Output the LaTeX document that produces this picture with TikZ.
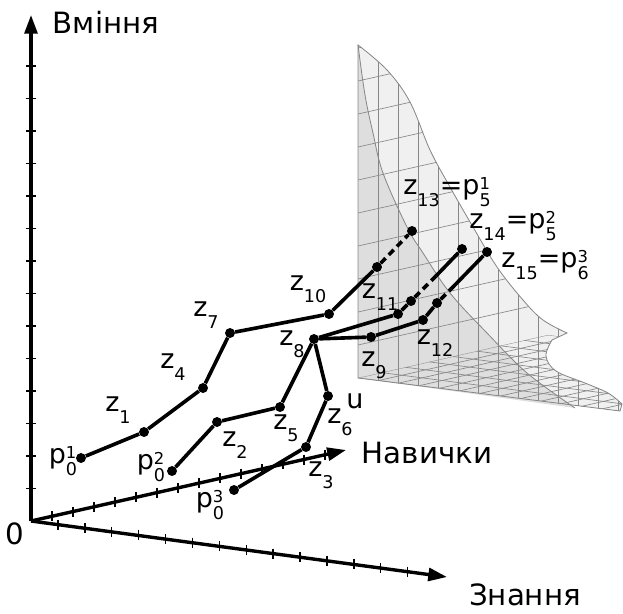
\documentclass[tikz,border=0pt]{standalone}
\usepackage{fontspec}
\setmainfont{DejaVu Sans}
\usepackage{tikz}
\usetikzlibrary{arrows.meta}
\definecolor{wallgray}{HTML}{DEDEDE}
\definecolor{facegray}{HTML}{F0F0F0}
\definecolor{meshgray}{HTML}{878787}

\newcommand{\zs}[2]{#1\raisebox{-0.45em}{\fontsize{15}{15}\selectfont #2}}
\newcommand{\pp}[2]{p\makebox[0pt][l]{\raisebox{0.2em}{\fontsize{14}{14}\selectfont #1}}\raisebox{-0.45em}{\fontsize{15}{15}\selectfont #2}}
\newcommand{\surfedge}{plot[smooth, tension=0.6] coordinates {(358,45) (387,70) (410,102) (430,150) (450,187) (473,227) (497,267) (523,300) (543,320) (567,333)} -- plot[smooth, tension=0.6] coordinates {(552,340) (546,356) (556,371) (585,383) (608,393) (622,404)} -- (620,411) -- (358,378) -- cycle}
\newcommand{\surfinner}{plot[smooth, tension=0.6] coordinates {(358,45) (365,95) (373,133) (383,173) (407,227) (423,253) (450,293) (487,333) (527,373) (575,408)}}

\begin{document}
\begin{tikzpicture}[x=0.03cm, y=-0.03cm,
    axis/.style={line width=2.9pt, -{Triangle[length=16pt, width=11pt]}},
    tick/.style={line width=1.2pt},
    traj/.style={line width=3.1pt},
    hidden/.style={line width=3.1pt, dash pattern=on 6pt off 4pt},
    dot/.style={circle, fill=black, inner sep=0pt, minimum size=8.5pt},
    lab/.style={font=\fontsize{23}{26}\selectfont, inner sep=0pt},
    axlab/.style={font=\fontsize{25}{29}\selectfont, inner sep=0pt},
    mesh/.style={draw=meshgray, line width=0.55pt}]
    \useasboundingbox (0,0) rectangle (623,613);

    % surface
    \fill[facegray] \surfedge;
    \fill[wallgray] \surfinner -- (358,378) -- cycle;
    \begin{scope}
        \clip \surfedge;
        \foreach \x in {378,398,...,618}
            \draw[mesh] (\x,40) -- (\x,420);
        \foreach \y in {48,81,...,345}
            \draw[mesh] (358,\y) -- (660,\y-68);
        \clip (358,378) -- (548,335) -- (810,369) -- (620,412) -- cycle;
        \foreach \t in {0,...,13}
            \draw[mesh] ({358+20.15*\t},{378+2.615*\t}) -- ++(190,-43);
        \foreach \s in {0,...,8}
            \draw[mesh] ({358+23.75*\s},{378-5.375*\s}) -- ++(262,34);
    \end{scope}
    \draw[mesh, line width=0.7pt] \surfedge;
    \draw[mesh, line width=0.7pt] \surfinner;

    % axes
    \coordinate (o) at (31,521);
    \coordinate (vmin) at (31,15);
    \coordinate (znan) at (447,577);
    \coordinate (navy) at (346,450);
    \draw[axis] (o) -- (vmin);
    \draw[axis] (o) -- (znan);
    \draw[axis] (o) -- (navy);
    \foreach \k in {1,...,14} {
        \draw[tick] (26,{521-32.5*\k}) -- (36,{521-32.5*\k});
        \draw[tick] ({31+26.9*\k},{516+3.62*\k}) -- ({31+26.9*\k},{526+3.62*\k});
        \draw[tick] ({31+21*\k},{516-4.73*\k}) -- ({31+21*\k},{526-4.73*\k});
    }
    \node[axlab] (l-vmin) at (106,22) {Вміння};
    \node[axlab] (l-znan) at (525,595) {Знання};
    \node[axlab] (l-navy) at (427,453) {Навички};
    \node[axlab] (l-o) at (15,534) {0};

    % trajectories
    \node[dot] (p01) at (81,458) {};
    \node[dot] (z1) at (144,432) {};
    \node[dot] (z4) at (203,388) {};
    \node[dot] (z7) at (230,333) {};
    \node[dot] (z10) at (329,314) {};
    \node[dot] (h1) at (377,267) {};
    \node[dot] (z13) at (412,231) {};
    \node[dot] (p02) at (172,471) {};
    \node[dot] (z2) at (217,422) {};
    \node[dot] (z5) at (280,407) {};
    \node[dot] (z8) at (314,339) {};
    \node[dot] (z11) at (398,314) {};
    \node[dot] (h2) at (411,301) {};
    \coordinate (h2b) at (436,276);
    \node[dot] (z14) at (462,249) {};
    \node[dot] (p03) at (234,490) {};
    \node[dot] (z3) at (306,447) {};
    \node[dot] (z6) at (328,396) {};
    \node[dot] (z9) at (371,337) {};
    \node[dot] (z12) at (423,320) {};
    \node[dot] (h3) at (437,303) {};
    \coordinate (h3b) at (451,289);
    \node[dot] (z15) at (487,252) {};

    \draw[traj] (p01) -- (z1) -- (z4) -- (z7) -- (z10) -- (h1);
    \draw[hidden] (h1) -- (z13);
    \draw[traj] (p02) -- (z2) -- (z5) -- (z8) -- (z11) -- (h2);
    \draw[hidden] (h2) -- (h2b);
    \draw[traj] (h2b) -- (z14);
    \draw[traj] (p03) -- (z3) -- (z6) -- (z8) -- (z9) -- (z12) -- (h3);
    \draw[hidden] (h3) -- (h3b);
    \draw[traj] (h3b) -- (z15);

    % labels
    \node[lab] (l-p01) at (63,461) {\pp{1}{0}};
    \node[lab] (l-p02) at (151,467) {\pp{2}{0}};
    \node[lab] (l-p03) at (210,505) {\pp{3}{0}};
    \node[lab] (l-z1) at (118,410) {\zs{z}{1}};
    \node[lab] (l-z4) at (173,367) {\zs{z}{4}};
    \node[lab] (l-z7) at (206,315) {\zs{z}{7}};
    \node[lab] (l-z10) at (308,289) {\zs{z}{10}};
    \node[lab] (l-z13) at (447,192) {\zs{z}{13}=\pp{1}{5}};
    \node[lab] (l-z2) at (235,445) {\zs{z}{2}};
    \node[lab] (l-z5) at (286,428) {\zs{z}{5}};
    \node[lab] (l-z8) at (292,344) {\zs{z}{8}};
    \node[lab] (l-z11) at (380,297) {\zs{z}{11}};
    \node[lab] (l-z14) at (513,226) {\zs{z}{14}=\pp{2}{5}};
    \node[lab] (l-z3) at (321,475) {\zs{z}{3}};
    \node[lab] (l-z6) at (340,422) {\zs{z}{6}};
    \node[lab] (l-u) at (355,401) {u};
    \node[lab] (l-z9) at (374,365) {\zs{z}{9}};
    \node[lab] (l-z12) at (435,343) {\zs{z}{12}};
    \node[lab] (l-z15) at (545,265) {\zs{z}{15}=\pp{3}{6}};
\end{tikzpicture}
\end{document}
